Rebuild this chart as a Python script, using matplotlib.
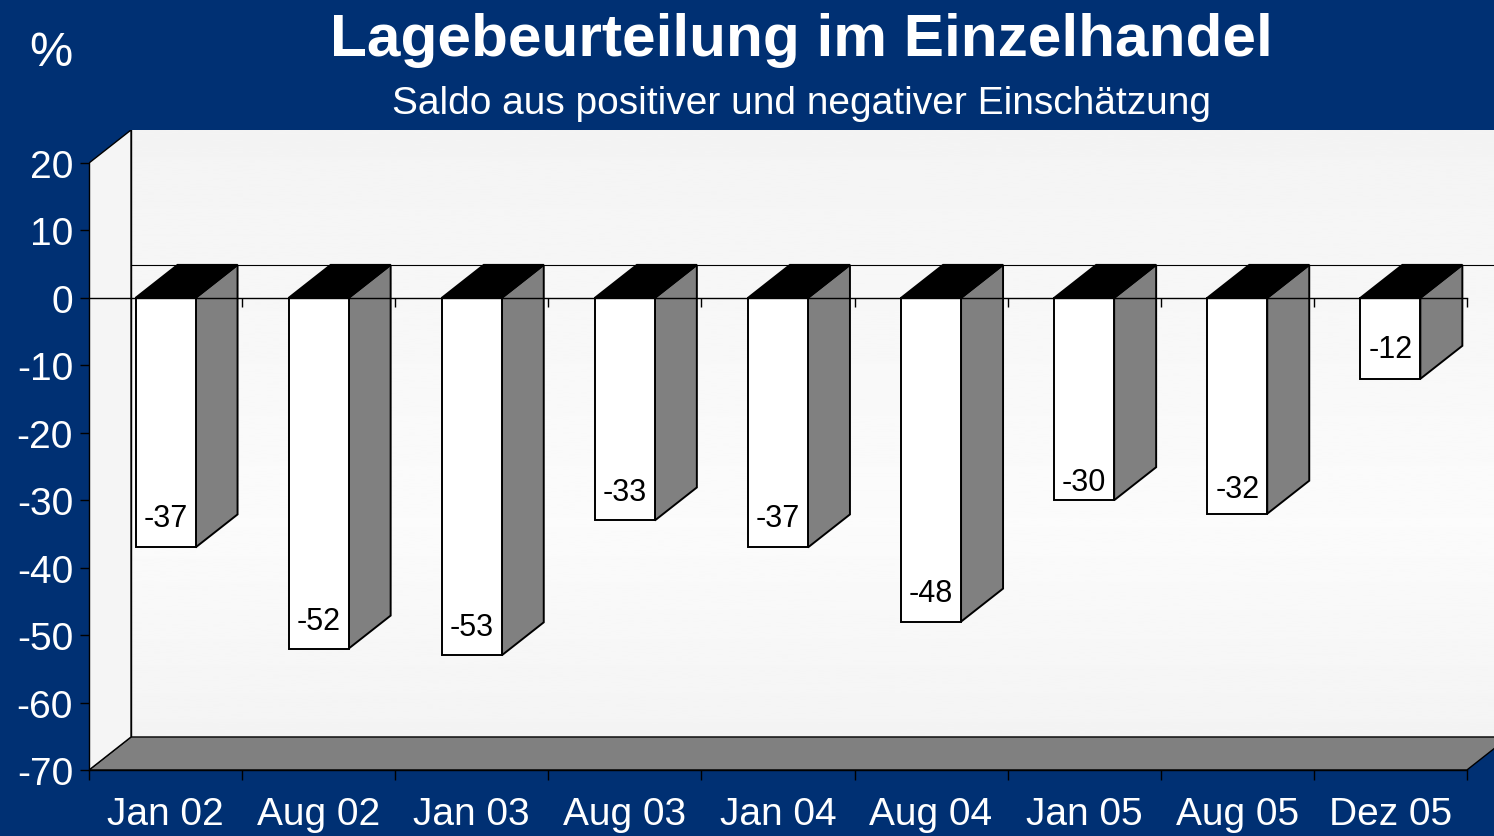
import numpy as np
import matplotlib
matplotlib.use("Agg")
import matplotlib.pyplot as plt
from matplotlib.patches import Polygon, Rectangle

plt.rcParams['font.family'] = ['Liberation Sans', 'DejaVu Sans']

# Daten
monate = ['Jan 02', 'Aug 02', 'Jan 03', 'Aug 03', 'Jan 04', 'Aug 04', 'Jan 05', 'Aug 05', 'Dez 05']
saldo = [-37, -52, -53, -33, -37, -48, -30, -32, -12]
y_ticks = [20, 10, 0, -10, -20, -30, -40, -50, -60, -70]

# Abstand der Beschriftung über dem Balkenende (Pixel)
label_off_px = [29, 28, 28, 28, 29, 29, 18, 25, 30]

BG = '#003073'
W, H = 1494, 837

fig = plt.figure(figsize=(W / 100, H / 100), dpi=100, facecolor=BG)

# Achse: Pixel 89..1494 horizontal, 131..771 vertikal
ax = fig.add_axes([89 / W, 1 - 771 / H, (W - 89) / W, (771 - 131) / H])
ax.set_facecolor('none')

px_per_cat = 153.1
px_per_unit = 6.74
dx = 42 / px_per_cat       # Tiefe in Kategorie-Einheiten
dy = 33 / px_per_unit      # Tiefe in Werte-Einheiten
xmin = -0.5
xmax = -0.5 + (W - 89) / px_per_cat
ymin, ytop = -70, 20
ymax = ytop + dy
n = len(monate)
bw = 60 / px_per_cat

# Rückwand mit leichtem Verlauf
t = np.linspace(0, 1, 256)
grad = np.interp(t, [0, 0.35, 1], [0.955, 0.985, 0.955]).reshape(-1, 1)
ax.imshow(grad, cmap='gray', vmin=0, vmax=1, aspect='auto', origin='lower',
          extent=(xmin + dx, xmax + 1, ymin + dy, ymax), zorder=0)
ax.plot([xmin + dx, xmin + dx], [ymin + dy, ymax], color='black', lw=1.0, zorder=1)

# Boden
ax.add_patch(Polygon([(xmin, ymin), (xmin + dx, ymin + dy), (n - 0.5 + dx, ymin + dy), (n - 0.5, ymin)],
                     closed=True, facecolor='#808080', edgecolor='black', lw=1.0, zorder=1))

# Seitenwand links
ax.add_patch(Polygon([(xmin, ytop), (xmin + dx, ymax), (xmin + dx, ymin + dy), (xmin, ymin)],
                     closed=True, facecolor='#f5f5f5', edgecolor='black', lw=1.0, zorder=1))

# Nulllinie hinten
ax.plot([xmin + dx, xmax + 1], [dy, dy], color='black', lw=0.8, zorder=1)

# Balken
for i, v in enumerate(saldo):
    l, r = i - bw / 2, i + bw / 2
    ax.add_patch(Polygon([(r, 0), (r + dx, dy), (r + dx, v + dy), (r, v)], closed=True,
                         facecolor='#808080', edgecolor='black', lw=1.4, zorder=3))
    ax.add_patch(Polygon([(l, 0), (l + dx, dy), (r + dx, dy), (r, 0)], closed=True,
                         facecolor='black', edgecolor='black', lw=1.4, zorder=3))
    ax.add_patch(Rectangle((l, v), bw, -v, facecolor='white', edgecolor='black', lw=1.4, zorder=4))
    ax.text(i, v + label_off_px[i] / px_per_unit, str(v), ha='center', va='center',
            fontsize=22, color='black', zorder=5)

# Nulllinie vorne mit kleinen Strichen
ax.plot([xmin, n - 0.5], [0, 0], color='black', lw=1.0, zorder=5)
ax.vlines(np.arange(n) + 0.5, -9 / px_per_unit, 0, color='black', lw=1.0, zorder=5)

ax.set_xlim(xmin, xmax)
ax.set_ylim(ymin, ymax)

for s in ['top', 'right']:
    ax.spines[s].set_visible(False)
ax.spines['left'].set_bounds(ymin, ytop)
ax.spines['bottom'].set_bounds(-0.5, n - 0.5)
ax.spines['left'].set_linewidth(1.0)
ax.spines['bottom'].set_linewidth(1.0)
ax.spines['left'].set_zorder(6)
ax.spines['bottom'].set_zorder(6)

ax.set_yticks(y_ticks)
ax.set_yticklabels([str(t) for t in y_ticks])
ax.set_xticks(np.arange(n + 1) - 0.5)
ax.set_xticklabels([''] * (n + 1))
ax.set_xticks(np.arange(n), minor=True)
ax.set_xticklabels(monate, minor=True)
ax.tick_params(axis='y', length=6.5, width=1.0, color='black', labelcolor='white',
               labelsize=28, pad=5)
ax.tick_params(axis='x', which='major', length=7, width=1.0, color='black')
ax.tick_params(axis='x', which='minor', length=0, labelcolor='white', labelsize=28, pad=19)

# Titel
fig.text(801 / W, 1 - 56 / H, 'Lagebeurteilung im Einzelhandel', ha='center', va='baseline',
         fontsize=43.5, fontweight='bold', color='white')
fig.text(801 / W, 1 - 114 / H, 'Saldo aus positiver und negativer Einschätzung', ha='center',
         va='baseline', fontsize=28, color='white')
fig.text(51 / W, 1 - 54 / H, '%', ha='center', va='center', fontsize=35, color='white')

fig.savefig('out.png', dpi=100, facecolor=BG)
